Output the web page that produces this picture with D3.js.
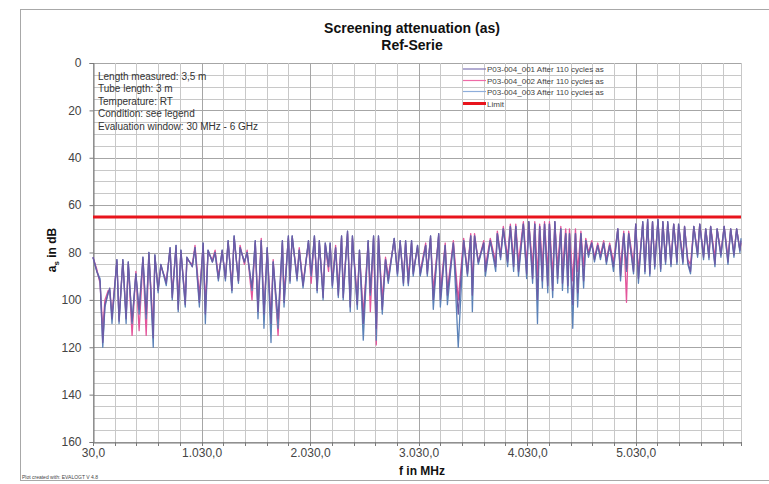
<!DOCTYPE html>
<html>
<head>
<meta charset="utf-8">
<script src="https://cdn.jsdelivr.net/npm/d3@7"></script>
<style>
body { margin: 0; background: #fff; }
svg { display: block; }
text { font-family: "Liberation Sans", Arial, sans-serif; }
</style>
</head>
<body>
<div id="chart"></div>
<script>
// measured frequencies (MHz), peaks and dips
const freqMHz = [
30, 65, 95, 120, 140, 170, 185, 205, 250, 270, 305, 335, 355, 390, 425, 455, 490, 520, 545, 585,
600, 630, 655, 705, 740, 760, 795, 815, 840, 880, 895, 945, 970, 1010, 1045, 1065, 1090, 1130, 1155, 1185,
1220, 1250, 1275, 1310, 1330, 1370, 1385, 1425, 1450, 1495, 1525, 1550, 1580, 1605, 1635, 1670, 1690, 1735, 1775, 1790,
1830, 1845, 1865, 1910, 1930, 1965, 2015, 2040, 2070, 2095, 2115, 2150, 2170, 2200, 2215, 2235, 2265, 2290, 2320, 2335,
2375, 2400, 2420, 2465, 2485, 2520, 2565, 2585, 2615, 2640, 2660, 2695, 2725, 2750, 2805, 2835, 2860, 2890, 2910, 2935,
2965, 2980, 3020, 3045, 3095, 3110, 3140, 3165, 3215, 3230, 3275, 3295, 3350, 3395, 3445, 3480, 3510, 3525, 3545, 3580,
3630, 3645, 3690, 3740, 3755, 3785, 3810, 3850, 3875, 3905, 3925, 3950, 3995, 4025, 4045, 4080, 4100, 4125, 4145, 4170,
4190, 4220, 4235, 4265, 4285, 4310, 4340, 4355, 4385, 4405, 4420, 4450, 4475, 4495, 4525, 4550, 4570, 4595, 4625, 4650,
4680, 4705, 4735, 4760, 4790, 4825, 4865, 4890, 4920, 4945, 4965, 5010, 5030, 5055, 5095, 5115, 5140, 5160, 5185, 5205,
5235, 5260, 5280, 5305, 5325, 5355, 5380, 5410, 5425, 5465, 5480, 5510, 5535, 5565, 5600, 5620, 5655, 5675, 5705, 5720,
5760, 5780, 5815, 5845, 5880, 5905, 5935, 5960, 5990, 6000
];

// a_s in dB
const sample001 = [
82, 88, 92, 118, 102, 97, 95, 108, 83, 109, 83, 108, 84, 109, 89, 104, 82, 106, 80, 116,
81, 96, 85, 93, 78, 99, 77, 104, 79, 102, 82, 86, 78, 101, 76, 106, 79, 84, 80, 91,
79, 91, 75, 96, 73, 92, 78, 84, 80, 95, 75, 105, 75, 106, 78, 110, 84, 108, 75, 101,
73, 92, 73, 91, 79, 94, 75, 89, 73, 96, 75, 99, 76, 86, 76, 94, 78, 98, 73, 99,
71, 103, 73, 102, 79, 110, 75, 97, 73, 112, 73, 104, 83, 92, 74, 89, 75, 93, 75, 93,
75, 89, 77, 89, 77, 89, 73, 100, 72, 100, 77, 98, 76, 106, 75, 89, 73, 98, 73, 84,
76, 88, 75, 86, 72, 82, 70, 84, 69, 86, 69, 88, 68, 89, 67, 91, 68, 100, 69, 92,
68, 94, 68, 96, 67, 91, 70, 93, 72, 94, 72, 102, 72, 97, 72, 92, 75, 81, 76, 83,
77, 82, 76, 84, 77, 86, 70, 90, 72, 87, 72, 88, 68, 91, 67, 88, 66, 89, 67, 86,
66, 87, 67, 84, 67, 85, 68, 84, 68, 84, 69, 84, 88, 69, 81, 68, 82, 70, 82, 69,
85, 70, 81, 69, 84, 70, 81, 70, 79, 75
];
const sample002 = [
82, 87, 93, 112, 100, 96, 97, 106, 84, 108, 84, 107, 85, 115, 88, 113, 83, 115, 81, 112,
82, 95, 86, 92, 79, 97, 78, 100, 80, 100, 83, 85, 77, 98, 77, 102, 80, 83, 79, 90,
80, 90, 76, 94, 74, 92, 77, 85, 79, 100, 76, 104, 74, 106, 79, 108, 83, 115, 76, 98,
74, 91, 74, 90, 78, 93, 76, 93, 74, 94, 76, 97, 77, 88, 77, 92, 77, 95, 74, 96,
72, 100, 74, 99, 80, 106, 76, 105, 74, 119, 74, 100, 82, 90, 75, 88, 76, 91, 76, 90,
76, 88, 78, 88, 76, 88, 74, 96, 73, 97, 76, 96, 75, 100, 74, 88, 72, 95, 72, 84,
75, 86, 74, 84, 71, 81, 69, 82, 68, 83, 68, 84, 67, 85, 67, 86, 67, 90, 68, 86,
67, 88, 67, 90, 67, 86, 69, 88, 70, 88, 70, 92, 70, 88, 71, 86, 74, 80, 75, 82,
76, 81, 75, 83, 76, 84, 70, 86, 71, 101, 71, 85, 68, 88, 68, 85, 67, 86, 67, 84,
67, 85, 67, 83, 68, 83, 68, 82, 69, 82, 69, 83, 85, 69, 80, 68, 81, 70, 81, 69,
82, 70, 80, 69, 82, 70, 80, 70, 79, 76
];
const sample003 = [
82, 88, 91, 120, 103, 97, 96, 110, 83, 110, 83, 110, 84, 110, 89, 106, 82, 108, 80, 120,
81, 97, 85, 94, 78, 100, 77, 105, 79, 103, 82, 86, 78, 103, 76, 110, 79, 84, 80, 92,
79, 92, 75, 97, 73, 93, 78, 84, 80, 96, 75, 108, 75, 112, 78, 118, 84, 112, 75, 103,
73, 93, 73, 92, 79, 95, 75, 90, 73, 97, 75, 100, 76, 86, 76, 95, 78, 99, 73, 100,
71, 105, 73, 104, 79, 117, 75, 98, 73, 117, 73, 106, 83, 93, 74, 90, 75, 94, 75, 94,
75, 90, 77, 90, 77, 90, 73, 104, 72, 103, 77, 102, 76, 120, 75, 90, 73, 105, 73, 85,
76, 90, 75, 88, 72, 83, 70, 86, 69, 88, 69, 90, 68, 91, 67, 93, 68, 110, 69, 95,
68, 97, 68, 99, 67, 93, 70, 96, 72, 97, 72, 112, 72, 103, 72, 95, 75, 82, 76, 84,
77, 83, 76, 85, 77, 88, 70, 92, 72, 88, 72, 89, 68, 93, 67, 89, 66, 90, 67, 87,
66, 88, 67, 85, 67, 86, 68, 85, 68, 85, 69, 85, 89, 69, 82, 68, 83, 70, 83, 69,
86, 70, 82, 69, 85, 70, 82, 70, 80, 74
];
const limitDb = 65;

const seriesNames = [
  "P03-004_001 After 110 cycles as",
  "P03-004_002 After 110 cycles as",
  "P03-004_003 After 110 cycles as",
  "Limit"
];
const xTickValues = [30, 1030, 2030, 3030, 4030, 5030];
const xTickLabels = ["30,0", "1.030,0", "2.030,0", "3.030,0", "4.030,0", "5.030,0"];
const yTickValues = [0, 20, 40, 60, 80, 100, 120, 140, 160];
const infoLines = [
  "Length measured: 3,5 m",
  "Tube length: 3 m",
  "Temperature: RT",
  "Condition: see legend",
  "Evaluation window: 30 MHz - 6 GHz"
];

var margin = { top: 63, left: 93 };
var width = 648, height = 379;

var root = d3.select("#chart").append("svg")
    .attr("width", 769)
    .attr("height", 484);

root.append("rect")
    .attr("x", 20.5).attr("y", 9.5)
    .attr("width", 770).attr("height", 471)
    .attr("fill", "#fff")
    .attr("stroke", "#a8a8a8");

var svg = root.append("g")
    .attr("transform", "translate(" + margin.left + "," + margin.top + ")");

const x = d3.scaleLinear().domain([30, 6000]).range([0, width]);
const y = d3.scaleLinear().domain([0, 160]).range([0, height]);

// grid
var hGrid = d3.range(0, 161, 5);
svg.append("g").selectAll("line")
    .data(hGrid).enter().append("line")
    .attr("x1", 0).attr("x2", width)
    .attr("y1", d => Math.round(y(d)) + 0.5).attr("y2", d => Math.round(y(d)) + 0.5)
    .attr("stroke", d => d % 20 === 0 ? "#a6a6a6" : "#c8c8c8")
    .attr("stroke-width", 1);

var vGrid = d3.range(30, 6000, 200).concat([6000]);
svg.append("g").selectAll("line")
    .data(vGrid).enter().append("line")
    .attr("y1", 0).attr("y2", height)
    .attr("x1", d => Math.round(x(d)) + 0.5).attr("x2", d => Math.round(x(d)) + 0.5)
    .attr("stroke", d => (d - 30) % 1000 === 0 ? "#a6a6a6" : "#c8c8c8")
    .attr("stroke-width", 1);

// axes
var yAxis = svg.append("g")
    .attr("transform", "translate(0.5,0)")
    .call(d3.axisLeft(y).tickValues(yTickValues).tickSize(4).tickPadding(8).tickFormat(d3.format("d")));
yAxis.select(".domain").attr("stroke", "#7a7a7a");
yAxis.selectAll(".tick line").attr("stroke", "#7a7a7a");
yAxis.selectAll("text").attr("fill", "#444").style("font-size", "12px");

var xAxis = svg.append("g")
    .attr("transform", `translate(0,${height + 0.5})`)
    .call(d3.axisBottom(x).tickValues(xTickValues).tickSize(0).tickPadding(6)
        .tickFormat((d, i) => xTickLabels[i]));
xAxis.select(".domain").attr("stroke", "#7a7a7a");
xAxis.selectAll("text").attr("fill", "#444").style("font-size", "12px");

svg.append("g").selectAll("line")
    .data(vGrid).enter().append("line")
    .attr("x1", d => Math.round(x(d)) + 0.5).attr("x2", d => Math.round(x(d)) + 0.5)
    .attr("y1", height).attr("y2", height + 4)
    .attr("stroke", "#7a7a7a");

// info text
svg.append("g").selectAll("text")
    .data(infoLines).enter().append("text")
    .attr("x", 5)
    .attr("y", (d, i) => 16.5 + i * 12.5)
    .attr("fill", "#333")
    .style("font-size", "10px")
    .text(d => d);

// series
const line = d3.line()
    .x((d, i) => x(freqMHz[i]))
    .y(d => y(d));

const seriesData = [sample002, sample003, sample001];
const seriesColors = ["#e4559b", "#5b82b8", "#6b5ba6"];
seriesData.forEach(function (s, k) {
  svg.append("path")
      .datum(s)
      .attr("fill", "none")
      .attr("stroke", seriesColors[k])
      .attr("stroke-width", 1.3)
      .attr("stroke-linejoin", "round")
      .attr("d", line);
});

svg.append("line")
    .attr("x1", 0).attr("x2", width)
    .attr("y1", y(limitDb)).attr("y2", y(limitDb))
    .attr("stroke", "#e8141c")
    .attr("stroke-width", 3);

// legend
const legendColors = ["#7f74b4", "#ef6aa6", "#8eaedb", "#e8141c"];
const legendY = [69, 80.5, 91.5, 103.5];
var legend = root.append("g");
seriesNames.forEach(function (name, i) {
  legend.append("line")
      .attr("x1", 463).attr("x2", 486)
      .attr("y1", legendY[i]).attr("y2", legendY[i])
      .attr("stroke", legendColors[i])
      .attr("stroke-width", i === 3 ? 3 : 1.2);
  legend.append("text")
      .attr("x", 487).attr("y", legendY[i] + 3)
      .attr("fill", "#444")
      .style("font-size", "8px")
      .text(name);
});

// titles
root.append("text")
    .attr("x", 412).attr("y", 33)
    .attr("text-anchor", "middle")
    .style("font-size", "14px").style("font-weight", "bold")
    .attr("fill", "#111")
    .text("Screening attenuation (as)");
root.append("text")
    .attr("x", 412).attr("y", 50)
    .attr("text-anchor", "middle")
    .style("font-size", "14px").style("font-weight", "bold")
    .attr("fill", "#111")
    .text("Ref-Serie");

var yTitle = root.append("text")
    .attr("transform", "translate(56,250) rotate(-90)")
    .attr("text-anchor", "middle")
    .style("font-size", "12px").style("font-weight", "bold")
    .attr("fill", "#111");
yTitle.append("tspan").text("a");
yTitle.append("tspan").attr("dy", 3).style("font-size", "8px").text("s");
yTitle.append("tspan").attr("dy", -3).text(" in dB");

root.append("text")
    .attr("x", 422).attr("y", 475)
    .attr("text-anchor", "middle")
    .style("font-size", "12px").style("font-weight", "bold")
    .attr("fill", "#111")
    .text("f in MHz");

root.append("text")
    .attr("x", 22).attr("y", 479)
    .style("font-size", "5px")
    .attr("fill", "#444")
    .text("Plot created with: EVALOGT V 4.8");
</script>
</body>
</html>
